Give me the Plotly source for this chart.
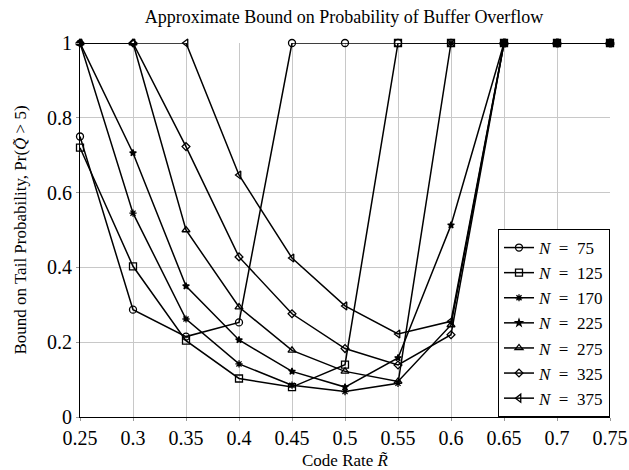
import plotly.graph_objects as go

rates = [0.25, 0.3, 0.35, 0.4, 0.45, 0.5, 0.55, 0.6, 0.65, 0.7, 0.75]
rate_labels = ["0.25", "0.3", "0.35", "0.4", "0.45", "0.5", "0.55", "0.6", "0.65", "0.7", "0.75"]
y_ticks = [0, 0.2, 0.4, 0.6, 0.8, 1]
y_labels = ["0", "0.2", "0.4", "0.6", "0.8", "1"]

n75 = [0.75, 0.287, 0.215, 0.253, 1, 1, 1, 1, 1, 1, 1]
n125 = [0.72, 0.403, 0.204, 0.103, 0.08, 0.14, 1, 1, 1, 1, 1]
n170 = [1, 0.545, 0.262, 0.142, 0.085, 0.068, 0.09, 1, 1, 1, 1]
n225 = [1, 0.706, 0.35, 0.206, 0.122, 0.08, 0.158, 0.513, 1, 1, 1]
n275 = [1, 1, 0.50, 0.294, 0.178, 0.122, 0.095, 0.246, 1, 1, 1]
n325 = [1, 1, 0.723, 0.428, 0.276, 0.183, 0.139, 0.22, 1, 1, 1]
n375 = [1, 1, 1, 0.647, 0.425, 0.297, 0.222, 0.256, 1, 1, 1]

series = [
    ("75", n75, "circle-open", 7),
    ("125", n125, "square-open", 7),
    ("170", n170, "asterisk-open", 6),
    ("225", n225, "star", 5),
    ("275", n275, "triangle-up-open", 7),
    ("325", n325, "diamond-open", 6),
    ("375", n375, "triangle-left-open", 7),
]

fig = go.Figure()
for name, vals, sym, sz in series:
    fig.add_trace(go.Scatter(
        x=rates, y=vals, mode="lines+markers",
        name="<i>N</i>&nbsp; = &nbsp;" + name,
        line=dict(color="black", width=1.5),
        marker=dict(symbol=sym, size=sz, color="black",
                    line=dict(color="black", width=1.3)),
        cliponaxis=False,
    ))

ff = "Liberation Serif"
fig.update_layout(
    width=629, height=470,
    margin=dict(l=80, r=19, t=43, b=53),
    plot_bgcolor="white", paper_bgcolor="white",
    font=dict(family=ff, color="black"),
    title=dict(text="Approximate Bound on Probability of Buffer Overflow",
               x=0.547, xanchor="center", y=0.965, yanchor="middle",
               font=dict(size=18, family=ff)),
    showlegend=True,
    legend=dict(x=1, y=0, xanchor="right", yanchor="bottom",
                bordercolor="black", borderwidth=1, bgcolor="white",
                font=dict(size=17, family=ff),
                tracegroupgap=0, itemwidth=30),
)
fig.update_xaxes(
    range=[0.25, 0.75], tickvals=rates, ticktext=rate_labels,
    showgrid=True, gridcolor="#c8c8c8", gridwidth=1,
    showline=True, linecolor="black", linewidth=1.2,
    ticks="outside", ticklen=3, tickcolor="#999999",
    tickfont=dict(size=20, family=ff),
    title=dict(text="Code Rate <i>R̃</i>", font=dict(size=17, family=ff)),
    zeroline=False, automargin=False,
)
fig.update_yaxes(
    range=[0, 1], tickvals=y_ticks, ticktext=y_labels,
    showgrid=True, gridcolor="#c8c8c8", gridwidth=1,
    showline=True, linecolor="black", linewidth=1.2,
    ticks="outside", ticklen=3, tickcolor="#999999",
    tickfont=dict(size=20, family=ff),
    title=dict(text="Bound on Tail Probability, Pr(<i>Q̃</i> > 5)", font=dict(size=17, family=ff)),
    zeroline=False, automargin=False,
)

fig.write_html("out.html")
